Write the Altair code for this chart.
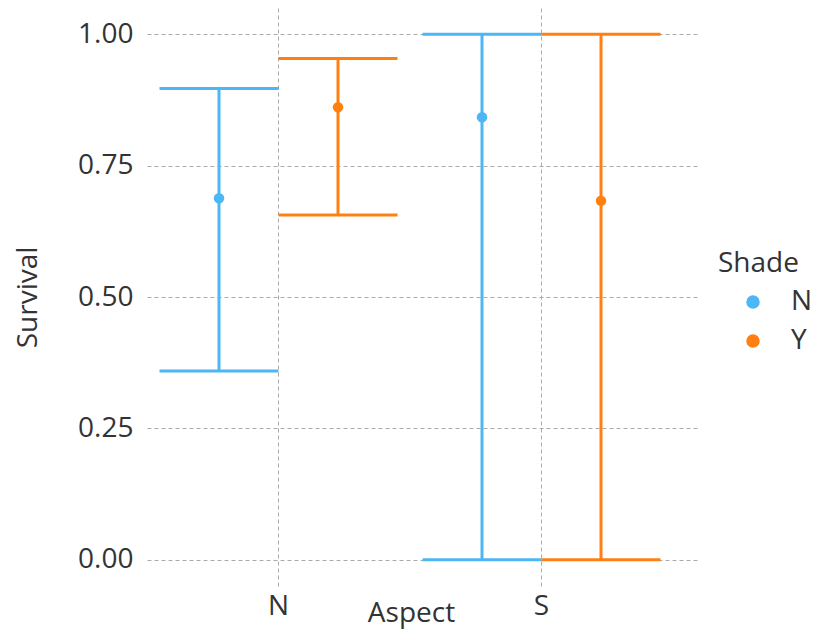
import altair as alt
import pandas as pd

aspect = ["N", "N", "S", "S"]
shade = ["N", "Y", "N", "Y"]
survival = [0.688, 0.861, 0.842, 0.683]
lower = [0.359, 0.656, 0.0, 0.0]
upper = [0.897, 0.954, 1.0, 1.0]

df = pd.DataFrame({"Aspect": aspect, "Shade": shade, "Survival": survival,
                   "lower": lower, "upper": upper})

FONT = "Open Sans"
FS = 28
colors = ["#4DB6F4", "#FF8010"]

xenc = alt.X("Aspect:N", title="Aspect",
             scale=alt.Scale(domain=["N", "S"], paddingInner=0, paddingOuter=0.0513, align=0),
             axis=alt.Axis(labelAngle=0, bandPosition=0.5, labelPadding=6,
                           titleX=264, titleY=35, titleBaseline="alphabetic", titleAlign="center"))
xoff = alt.XOffset("Shade:N", scale=alt.Scale(domain=["N", "Y"], paddingInner=0, paddingOuter=0.105))
yscale = alt.Scale(domain=[-0.05, 1.05], nice=False, zero=False)
color = alt.Color("Shade:N", scale=alt.Scale(domain=["N", "Y"], range=colors),
                  legend=alt.Legend(orient="none", legendX=571, legendY=242, symbolType="circle",
                                    symbolSize=144, symbolOffset=21, labelOffset=24,
                                    symbolOpacity=1,
                                    rowPadding=11, titlePadding=10, padding=0))

base = alt.Chart(df)

vert = base.mark_rule(strokeWidth=3, opacity=1).encode(
    x=xenc, xOffset=xoff,
    y=alt.Y("lower:Q", scale=yscale, title="Survival",
            axis=alt.Axis(values=[0, 0.25, 0.5, 0.75, 1.0], format=".2f", labelPadding=14,
                          titleX=-119, titleBaseline="middle")),
    y2="upper:Q",
    color=color,
)
cap_lo = base.mark_tick(size=119, thickness=3, orient="horizontal", opacity=1).encode(
    x=xenc, xOffset=xoff, y=alt.Y("lower:Q", scale=yscale), color=color)
cap_hi = base.mark_tick(size=119, thickness=3, orient="horizontal", opacity=1).encode(
    x=xenc, xOffset=xoff, y=alt.Y("upper:Q", scale=yscale), color=color)
pts = base.mark_circle(size=110, opacity=1).encode(
    x=xenc, xOffset=xoff, y=alt.Y("Survival:Q", scale=yscale), color=color)

chart = alt.layer(vert, cap_lo, cap_hi, pts).properties(
    width=553, height=578,
    autosize=alt.AutoSizeParams(type="none"),
    padding={"left": 139, "top": 0, "right": 112, "bottom": 44},
).configure_view(stroke=None).configure_axis(
    domain=False, ticks=False, grid=True, gridColor="#aaaaaa", gridDash=[4, 3], gridWidth=1,
    labelFont=FONT, labelFontSize=FS, labelColor="#333333",
    titleFont=FONT, titleFontSize=FS, titleColor="#333333", titleFontWeight="normal",
).configure_legend(
    titleFont=FONT, titleFontSize=FS, titleColor="#333333", titleFontWeight="normal",
    labelFont=FONT, labelFontSize=FS, labelColor="#333333",
)

chart.save("out.html", embed_options={"renderer": "svg", "actions": False})
